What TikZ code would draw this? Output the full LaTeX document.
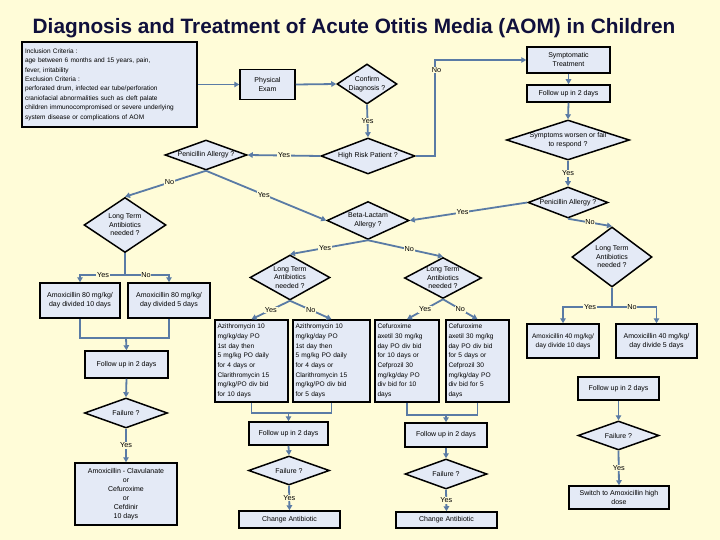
\documentclass[tikz,border=0pt]{standalone}
\usepackage{fontspec}
\setmainfont{Liberation Sans}
\usetikzlibrary{shapes.geometric,arrows.meta}
\definecolor{bg}{HTML}{FFFCD8}
\definecolor{nodefill}{HTML}{E4EAF6}
\definecolor{arr}{HTML}{5A7BA5}
\definecolor{titlec}{HTML}{10103C}
\begin{document}
\begin{tikzpicture}[x=1pt,y=-1pt,
  box/.style={draw=black, line width=1.5pt, fill=nodefill, inner sep=1pt, font=\fontsize{7}{9}\selectfont, align=center},
  tbox/.style={box, align=left, font=\fontsize{6.6}{9.7}\selectfont},
  dia/.style={diamond, draw=black, line width=1.5pt, fill=nodefill, inner sep=-2pt, font=\fontsize{7}{8.5}\selectfont, align=center},
  con/.style={draw=arr, line width=1.8pt, -{Triangle[length=5pt,width=5.5pt]}},
  ln/.style={draw=arr, line width=1.8pt},
  lab/.style={fill=bg, inner sep=0.8pt, font=\fontsize{7.3}{8}\selectfont}
]
\fill[bg] (0,0) rectangle (720,540);
\useasboundingbox (0,0) rectangle (720,540);

\node[font=\bfseries\fontsize{20.8}{22}\selectfont, text=titlec] (title) at (354,28) {Diagnosis and Treatment of Acute Otitis Media (AOM) in Children};

% top row
\node[box, align=left, minimum width=175, minimum height=85, text width=169, font=\fontsize{6.5}{9.4}\selectfont] (incl) at (109.5,84.5) {Inclusion Criteria :\\ age between 6 months and 15 years, pain,\\ fever, irritability\\ Exclusion Criteria :\\ perforated drum, infected ear tube/perforation\\ craniofacial abnormalities such as cleft palate\\ children immunocompromised or severe underlying\\ system disease or complications of AOM};
\node[box, minimum width=55, minimum height=30] (phys) at (267.5,84.5) {Physical\\Exam};
\node[dia, minimum width=60, minimum height=40, aspect=1.5] (conf) at (367,84) {Confirm\\Diagnosis ?};
\node[box, minimum width=83, minimum height=26] (symp) at (568.5,60) {Symptomatic\\Treatment};
\node[box, minimum width=83, minimum height=17] (fu1) at (568.5,93.5) {Follow up in 2 days};
\node[dia, minimum width=123, minimum height=40, aspect=3] (worse) at (568,140) {Symptoms worsen or fail\\to respond ?};

% second row
\node[dia, minimum width=94, minimum height=36, aspect=2.6] (hr) at (368,156) {High Risk Patient ?};
\node[dia, minimum width=82, minimum height=30, aspect=2.7] (penL) at (206,155) {Penicillin Allergy ?};
\node[dia, minimum width=82, minimum height=55, aspect=1.5] (ltL) at (125,225) {Long Term\\Antibiotics\\needed ?};
\node[dia, minimum width=82, minimum height=38, aspect=2.15] (beta) at (368,220.5) {Beta-Lactam\\Allergy ?};
\node[dia, minimum width=80, minimum height=31, aspect=2.6] (penR) at (568,202.5) {Penicillin Allergy ?};
\node[dia, minimum width=80, minimum height=60, aspect=1.33] (ltR) at (612,257) {Long Term\\Antibiotics\\needed ?};
\node[dia, minimum width=80, minimum height=45, aspect=1.78] (ltML) at (290,277.5) {Long Term\\Antibiotics\\needed ?};
\node[dia, minimum width=77, minimum height=41, aspect=1.88] (ltMR) at (443,278) {Long Term\\Antibiotics\\needed ?};

% treatment boxes
\node[box, minimum width=80, minimum height=35] (amoxA) at (80,300.5) {Amoxicillin 80 mg/kg/\\day divided 10 days};
\node[box, minimum width=82, minimum height=35] (amoxB) at (169,300.5) {Amoxicillin 80 mg/kg/\\day divided 5 days};
\node[tbox, minimum width=73, minimum height=82, text width=68] (azi10) at (251.5,361) {Azithromycin 10\\mg/kg/day PO\\1st day then\\5 mg/kg PO daily\\for 4 days or\\Clarithromycin 15\\mg/kg/PO div bid\\for 10 days};
\node[tbox, minimum width=77, minimum height=82, text width=72] (azi5) at (331.5,361) {Azithromycin 10\\mg/kg/day PO\\1st day then\\5 mg/kg PO daily\\for 4 days or\\Clarithromycin 15\\mg/kg/PO div bid\\for 5 days};
\node[tbox, minimum width=64, minimum height=82, text width=59] (cef10) at (407,361) {Cefuroxime\\axetil 30 mg/kg\\day PO div bid\\for 10 days or\\Cefprozil 30\\mg/kg/day PO\\div bid for 10\\days};
\node[tbox, minimum width=63, minimum height=82, text width=58] (cef5) at (477.5,361) {Cefuroxime\\axetil 30 mg/kg\\day PO div bid\\for 5 days or\\Cefprozil 30\\mg/kg/day PO\\div bid for 5\\days};
\node[box, minimum width=72, minimum height=34, font=\fontsize{6.6}{9}\selectfont] (amoxC) at (563,341) {Amoxicillin 40 mg/kg/\\day divide 10 days};
\node[box, minimum width=81, minimum height=34] (amoxD) at (656.5,341) {Amoxicillin 40 mg/kg/\\day divide 5 days};

% follow-ups
\node[box, minimum width=83, minimum height=27] (fuL) at (126.5,364.5) {Follow up in 2 days};
\node[dia, minimum width=83, minimum height=30, aspect=2.77] (failL) at (126,413) {Failure ?};
\node[box, minimum width=102, minimum height=62] (clav) at (126,494) {Amoxicillin - Clavulanate\\or\\Cefuroxime\\or\\Cefdinir\\10 days};

\node[box, minimum width=79, minimum height=23] (fuM) at (288.5,433.5) {Follow up in 2 days};
\node[dia, minimum width=81, minimum height=29, aspect=2.8] (failM) at (289,470.5) {Failure ?};
\node[box, minimum width=101, minimum height=17] (chgM) at (289.5,519.5) {Change Antibiotic};

\node[box, minimum width=82, minimum height=24] (fuN) at (446,435) {Follow up in 2 days};
\node[dia, minimum width=82, minimum height=30, aspect=2.73] (failN) at (446,474) {Failure ?};
\node[box, minimum width=101, minimum height=16] (chgN) at (446.5,520) {Change Antibiotic};

\node[box, minimum width=81, minimum height=23] (fuR) at (618.5,388.5) {Follow up in 2 days};
\node[dia, minimum width=81, minimum height=29, aspect=2.8] (failR) at (618.5,435.5) {Failure ?};
\node[box, minimum width=100, minimum height=23] (sw) at (619,497.5) {Switch to Amoxicillin high\\dose};

% connectors top
\draw[con] (incl.east |- phys.west) -- (phys.west);
\draw[con] (phys.east) -- (conf.west);
\draw[con] (conf.south) -- node[lab]{Yes} (hr.north);
\draw[con] (hr.east) -- ++(19,0) |- (symp.west);
\node[lab] (noT) at (436.5,70) {No};
\draw[con] (symp.south) -- (fu1.north);
\draw[con] (fu1.south) -- (worse.north);
\draw[con] (worse.south) -- node[lab]{Yes} (penR.north);
\draw[con] (hr.west) -- node[lab]{Yes} (penL.east);
\draw[con] (penL.south) -- node[lab, pos=0.45]{No} (ltL.north);
\draw[con] (penL.south) -- node[lab, pos=0.48]{Yes} (beta.west);
\draw[con] (penR.west) -- node[lab, pos=0.55]{Yes} (beta.east);
\draw[con] (penR.south) -- node[lab, pos=0.5]{No} (ltR.north);
\draw[con] (beta.south) -- node[lab, pos=0.55]{Yes} (ltML.north);
\draw[con] (beta.south) -- node[lab, pos=0.55]{No} (ltMR.north);
\draw[con] (ltML.south) -- node[lab, pos=0.5]{Yes} (azi10.north);
\draw[con] (ltML.south) -- node[lab, pos=0.5]{No} (azi5.north);
\draw[con] (ltMR.south) -- node[lab, pos=0.5]{Yes} (cef10.north);
\draw[con] (ltMR.south) -- node[lab, pos=0.5]{No} (cef5.north);

% left branch
\coordinate (jL) at (125,275);
\draw[ln] (ltL.south) -- (jL);
\draw[con] (jL) -| (amoxA.north);
\draw[con] (jL) -| (amoxB.north);
\node[lab] (yL) at (103,275) {Yes};
\node[lab] (nL) at (146,275) {No};
\coordinate (jL2) at (126,338);
\draw[ln] (amoxA.south) |- (jL2);
\draw[ln] (amoxB.south) |- (jL2);
\draw[con] (jL2) -- (fuL.north);
\draw[con] (fuL.south) -- (failL.north);
\draw[con] (failL.south) -- node[lab]{Yes} (clav.north);

% middle branches
\coordinate (jM) at (288.5,413);
\draw[ln] (azi10.south) |- (jM);
\draw[ln] (azi5.south) |- (jM);
\draw[con] (jM) -- (fuM.north);
\draw[con] (fuM.south) -- (failM.north);
\draw[con] (failM.south) -- node[lab]{Yes} (chgM.north);

\coordinate (jN) at (446,415);
\draw[ln] (cef10.south) |- (jN);
\draw[ln] (cef5.south) |- (jN);
\draw[con] (jN) -- (fuN.north);
\draw[con] (fuN.south) -- (failN.north);
\draw[con] (failN.south) -- node[lab]{Yes} (chgN.north);

% right branch
\coordinate (jR) at (612,307);
\draw[ln] (ltR.south) -- (jR);
\draw[con] (jR) -| (amoxC.north);
\draw[con] (jR) -| (amoxD.north);
\node[lab] (yR) at (590,307) {Yes};
\node[lab] (nR) at (632,307) {No};
\draw[con] (fuR.south) -- (failR.north);
\draw[con] (failR.south) -- node[lab]{Yes} (sw.north);
\end{tikzpicture}
\end{document}
